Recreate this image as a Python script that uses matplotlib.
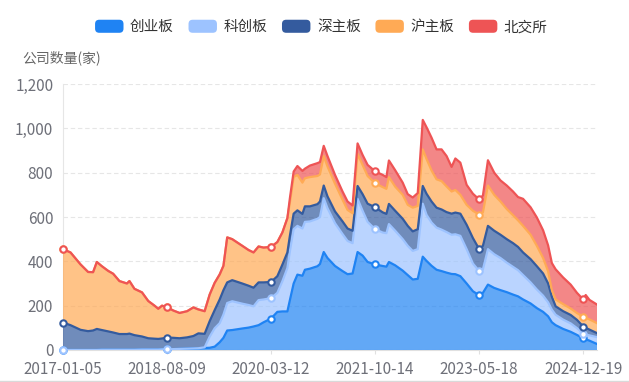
import numpy as np
import pandas as pd
import matplotlib
matplotlib.use("Agg")
import matplotlib.pyplot as plt
from matplotlib.lines import Line2D
from matplotlib.patches import FancyBboxPatch, Patch
from matplotlib.legend_handler import HandlerPatch

plt.rcParams["font.family"] = ["Noto Sans CJK SC", "DejaVu Sans"]

# ---- data (weekly snapshots) ----
dates = [
    "2017-01-05", "2017-02-16", "2017-04-13", "2017-05-25", "2017-06-22", "2017-07-13",
    "2017-08-10", "2017-09-14", "2017-10-12", "2017-11-16", "2017-12-28", "2018-01-11",
    "2018-02-08", "2018-03-22", "2018-04-26", "2018-05-31", "2018-06-21", "2018-07-12",
    "2018-08-09", "2018-09-13", "2018-10-18", "2018-11-29", "2019-01-03", "2019-01-31",
    "2019-03-07", "2019-04-04", "2019-05-02", "2019-05-30", "2019-06-20", "2019-07-11",
    "2019-08-08", "2019-10-03", "2019-11-07", "2019-12-05", "2020-01-02", "2020-01-30",
    "2020-03-12", "2020-04-16", "2020-05-14", "2020-06-11", "2020-06-25", "2020-07-16",
    "2020-08-06", "2020-09-03", "2020-09-17", "2020-10-15", "2020-11-26", "2020-12-10",
    "2020-12-31", "2021-01-21", "2021-03-04", "2021-04-15", "2021-05-13", "2021-06-10",
    "2021-07-08", "2021-08-05", "2021-09-02", "2021-10-14", "2021-11-25", "2021-12-16",
    "2021-12-30", "2022-02-03", "2022-03-17", "2022-04-14", "2022-05-12", "2022-06-09",
    "2022-07-07", "2022-07-28", "2022-08-25", "2022-09-22", "2022-10-20", "2022-11-17",
    "2022-12-15", "2023-01-05", "2023-02-02", "2023-03-09", "2023-04-13", "2023-05-18",
    "2023-06-08", "2023-07-06", "2023-08-10", "2023-09-14", "2023-10-19", "2023-11-23",
    "2023-12-21", "2024-01-18", "2024-02-29", "2024-04-04", "2024-05-09", "2024-06-06",
    "2024-06-27", "2024-07-18", "2024-08-29", "2024-10-10", "2024-11-14", "2024-12-19",
    "2025-01-02", "2025-01-23", "2025-03-06",
]

chuangye = [  # 创业板
    0, 0, 0, 0, 0, 0, 1, 1, 1, 1, 1, 1, 1, 2, 2, 2, 2, 3, 3, 4, 5, 6, 7, 8,
    9, 10, 15, 35, 55, 88, 90, 97, 101, 106, 112, 125, 142, 172, 174, 174, 225, 300,
    340, 335, 362, 367, 378, 388, 442, 415, 379, 356, 342, 345, 442, 426, 397, 386, 379, 376,
    397, 382, 358, 338, 318, 321, 421, 402, 380, 362, 356, 349, 343, 342, 333, 300, 265, 247,
    258, 295, 280, 270, 261, 250, 242, 228, 210, 189, 172, 152, 125, 112, 95, 82, 68, 52,
    48, 42, 27,
]
kechuang = [  # 科创板
    0, 0, 0, 0, 0, 0, 0, 0, 0, 0, 0, 0, 0, 0, 0, 0, 0, 0, 0, 0, 0, 0, 0, 0,
    3, 50, 83, 86, 105, 124, 130, 112, 102, 91, 113, 103, 92, 86, 136, 196, 220, 245,
    220, 213, 216, 213, 214, 212, 243, 225, 193, 167, 150, 137, 240, 202, 181, 159, 151, 151,
    171, 156, 142, 132, 129, 134, 239, 208, 195, 190, 187, 183, 177, 180, 182, 155, 125, 109,
    106, 160, 152, 145, 133, 125, 118, 110, 95, 84, 73, 63, 57, 47, 42, 38, 31, 21,
    22, 24, 31,
]
shen_main = [  # 深主板
    124, 112, 91, 85, 88, 95, 89, 83, 78, 71, 71, 73, 66, 59, 51, 49, 48, 49, 53, 51, 48, 51, 56, 67,
    61, 70, 82, 107, 110, 93, 95, 91, 87, 84, 80, 77, 73, 75, 75, 70, 70, 70,
    70, 66, 70, 68, 66, 70, 57, 53, 53, 57, 56, 56, 58, 75, 82, 99, 91, 87,
    91, 90, 92, 90, 88, 90, 80, 95, 95, 90, 91, 90, 95, 98, 100, 110, 115, 99,
    106, 105, 106, 105, 106, 107, 105, 102, 105, 105, 100, 85, 58, 38, 38, 38, 37, 33,
    30, 26, 18,
]
hu_main = [  # 沪主板
    331, 328, 295, 267, 263, 302, 288, 273, 265, 239, 228, 237, 209, 199, 168, 149, 136, 148, 137, 123, 114, 118, 129, 108,
    102, 120, 123, 113, 110, 203, 185, 170, 161, 159, 162, 157, 158, 154, 145, 155, 150, 165,
    160, 141, 127, 132, 127, 122, 133, 135, 125, 98, 84, 79, 145, 132, 125, 108, 114, 113,
    121, 109, 108, 95, 107, 105, 165, 157, 140, 128, 128, 116, 100, 102, 85, 90, 123, 156,
    151, 182, 162, 150, 136, 126, 120, 120, 110, 92, 70, 55, 30, 31, 32, 29, 31, 44,
    45, 46, 45,
]
bse = [  # 北交所
    0, 0, 0, 0, 0, 0, 0, 0, 0, 0, 0, 0, 0, 0, 0, 0, 0, 0, 0, 0, 0, 0, 0, 0,
    0, 0, 0, 0, 0, 0, 0, 0, 0, 0, 0, 0, 0, 0, 0, 0, 20, 25,
    40, 53, 43, 52, 58, 56, 46, 47, 40, 37, 38, 35, 47, 45, 50, 54, 55, 53,
    75, 74, 55, 48, 46, 58, 133, 143, 148, 135, 143, 137, 111, 142, 145, 90, 77, 68,
    76, 114, 100, 95, 106, 107, 105, 122, 124, 128, 125, 117, 122, 136, 120, 108, 91, 78,
    103, 88, 84,
]

names = ["创业板", "科创板", "深主板", "沪主板", "北交所"]
colors = ["#1F83F3", "#9DC3FF", "#345B9E", "#FFAA55", "#EE5455"]
tick_dates = ["2017-01-05", "2018-08-09", "2020-03-12", "2021-10-14", "2023-05-18", "2024-12-19"]

x = pd.to_datetime(dates)
series = [chuangye, kechuang, shen_main, hu_main, bse]
tops = np.cumsum(np.array(series, dtype=float), axis=0)
mark_idx = [dates.index(d) for d in tick_dates]

fig = plt.figure(figsize=(6.29, 3.82), dpi=100)
ax = fig.add_axes([63 / 629, 1 - 350 / 382, (597 - 63) / 629, (350 - 84) / 382])

# stacked areas
ax.stackplot(x, *series, colors=colors, alpha=0.7, linewidth=0, zorder=2)

# lines + hollow markers at label positions
for i, c in enumerate(colors):
    ax.plot(x, tops[i], color=c, lw=1.6, zorder=3 + i, solid_joinstyle="round")
    ax.plot(x[mark_idx], tops[i][mark_idx], ls="none", marker="o", ms=4.6,
            mfc="white", mec=c, mew=1.5, zorder=3 + i, clip_on=False)

# axes styling
ax.set_ylim(0, 1200)
ax.set_yticks(range(0, 1201, 200))
ax.set_yticklabels([f"{v:,}" for v in range(0, 1201, 200)])
ax.set_xlim(x[0], x[-1])
ax.set_xticks(pd.to_datetime(tick_dates))
ax.set_xticklabels(tick_dates)

ax.grid(axis="y", color="#E6E6E6", lw=0.8, ls=(0, (4, 2.5)), zorder=1)
ax.set_axisbelow(True)
for s in ["top", "right"]:
    ax.spines[s].set_visible(False)
ax.spines["left"].set_color("#E6E6E6")
ax.spines["bottom"].set_color("#E0E0E0")
ax.spines["left"].set_zorder(1)
ax.spines["bottom"].set_zorder(1)

ax.tick_params(axis="y", length=0, pad=7, labelsize=11, labelcolor="#6E7079")
ax.tick_params(axis="x", length=3, width=0.8, color="#E0E0E0", pad=5,
               labelsize=11, labelcolor="#6E7079")

fig.text(22 / 629, 1 - 58 / 382, "公司数量(家)", ha="left", va="center",
         fontsize=10, color="#666666")

# thin frame line along the bottom edge
fig.add_artist(Line2D([0, 1], [1.5 / 382, 1.5 / 382], color="#D9D9D9", lw=1,
                      transform=fig.transFigure))


# legend with rounded colour boxes
class RoundBox(HandlerPatch):
    def create_artists(self, legend, orig_handle, xdescent, ydescent,
                       width, height, fontsize, trans):
        p = FancyBboxPatch((-xdescent, -ydescent), width, height,
                           boxstyle="round,pad=0,rounding_size=3",
                           facecolor=orig_handle.get_facecolor(),
                           edgecolor="none", transform=trans)
        return [p]


handles = [Patch(facecolor=c) for c in colors]
leg = fig.legend(handles, names, loc="center", bbox_to_anchor=(0.511, 1 - 27 / 382),
                 ncol=5, frameon=False, fontsize=10.5, handlelength=1.95,
                 handleheight=1.0, handletextpad=0.45, columnspacing=1.0,
                 handler_map={Patch: RoundBox()})
for t in leg.get_texts():
    t.set_color("#333333")

fig.savefig("out.png", dpi=100)
